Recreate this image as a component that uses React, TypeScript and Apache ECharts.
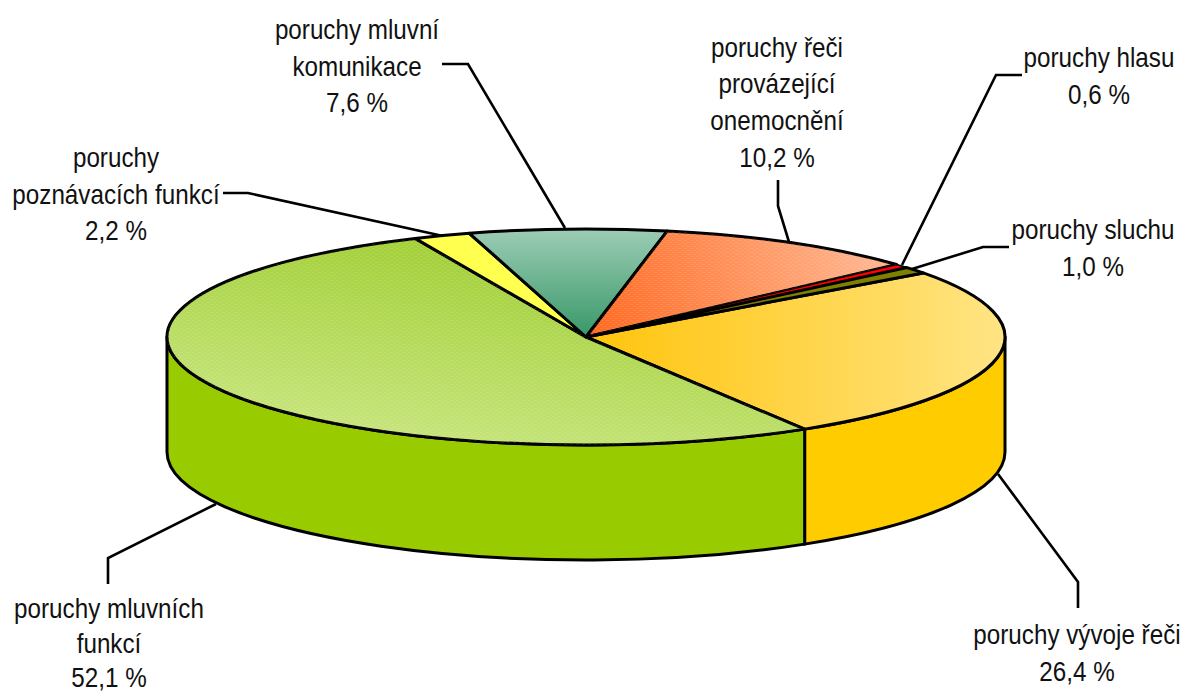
import React, { useEffect, useRef } from "react";
import * as echarts from "echarts";

// ---- data ----
const categories = [
  "poruchy vývoje řeči",
  "poruchy mluvních\nfunkcí",
  "poruchy\npoznávacích funkcí",
  "poruchy mluvní\nkomunikace",
  "poruchy řeči\nprovázející\nonemocnění",
  "poruchy hlasu",
  "poruchy sluchu",
];
const seriesValues = [26.4, 52.1, 2.2, 7.6, 10.2, 0.6, 1.0];

// ---- layout ----
const W = 1184;
const H = 695;
const CX = 586;
const CY = 337;
const RX = 419;
const RY = 108;
const DEPTH = 115;
const START_DEG = 53.6;
const FONT_SIZE = 28.5;
const LINE_HEIGHT = 36.8;
const BOTTOM_LABEL_LINE_HEIGHT = 34.5;
const TEXT_SCALE_X = 0.85;
const labelCenters = [
  [1077, 653],
  [109, 643],
  [116, 194],
  [357, 66],
  [777, 102],
  [1099, 76],
  [1093, 248],
];
const leaders = [
  [[1078, 608], [1078, 582], [998, 474]],
  [[108, 584], [108, 558], [216, 504]],
  [[223, 193], [248, 193], [443, 236]],
  [[442, 64], [468, 64], [565, 228]],
  [[778, 180], [778, 206], [789, 242]],
  [[1022, 75], [996, 75], [902, 265]],
  [[1009, 247], [983, 247], [912, 269]],
];

// ---- styles ----
const grad = (x: number, y: number, x2: number, y2: number, a: string, b: string) =>
  new echarts.graphic.LinearGradient(x, y, x2, y2, [
    { offset: 0, color: a },
    { offset: 1, color: b },
  ], true);
const topFills: any[] = [
  grad(590, 0, 1000, 0, "#FFC40C", "#FFE482"),
  grad(440, 238, 410, 445, "#A2CF36", "#C8E57E"),
  "#FFFF50",
  grad(0, 232, 0, 337, "#9ACBB3", "#379868"),
  grad(590, 335, 860, 245, "#FF6A22", "#FFB38C"),
  "#FF0000",
  "#808000",
];
const sideFills = ["#FFCC00", "#99CC00", "#FFFF00", "#339966", "#FF6600", "#FF0000", "#808000"];

const hatch = () => {
  const c = document.createElement("canvas");
  c.width = 6;
  c.height = 4;
  const g = c.getContext("2d")!;
  g.fillStyle = "rgba(255,255,255,0.1)";
  g.fillRect(0, 0, 3, 1);
  g.fillRect(3, 2, 3, 1);
  return c;
};

const pt = (deg: number, dy = 0) => {
  const t = (deg * Math.PI) / 180;
  return [CX + RX * Math.sin(t), CY - RY * Math.cos(t) + dy];
};
const arcTo = (deg: number, cw: boolean, dy = 0) => {
  const p = pt(deg, dy);
  return { cmd: (large: number) => `A${RX} ${RY} 0 ${large} ${cw ? 1 : 0} ${p[0]} ${p[1]}` };
};
const total = seriesValues.reduce((a, b) => a + b, 0);

function sectorPath(a: number, b: number) {
  const s = pt(a);
  return `M${CX} ${CY}L${s[0]} ${s[1]}${arcTo(b, true).cmd(b - a > 180 ? 1 : 0)}Z`;
}
function sidePath(a: number, b: number) {
  const s = pt(a);
  const e = pt(b, DEPTH);
  return (
    `M${s[0]} ${s[1]}` +
    arcTo(b, true).cmd(b - a > 180 ? 1 : 0) +
    `L${e[0]} ${e[1]}` +
    arcTo(a, false, DEPTH).cmd(b - a > 180 ? 1 : 0) +
    "Z"
  );
}

export default function App() {
  const ref = useRef<HTMLDivElement>(null);
  useEffect(() => {
    const chart = echarts.init(ref.current!, null, { renderer: "svg" });
    const pattern = { image: hatch(), repeat: "repeat" };
    const line = { stroke: "#000", lineWidth: 3, lineJoin: "round" };
    chart.setOption({
      animation: false,
      backgroundColor: "#fff",
      series: [
        {
          type: "custom",
          coordinateSystem: "none",
          silent: true,
          data: seriesValues.map((v) => [v]),
          renderItem: (params: any, api: any) => {
            const i = params.dataIndex;
            const v = api.value(0);
            const before = seriesValues.slice(0, i).reduce((a, b) => a + b, 0);
            const a = START_DEG + (before / total) * 360;
            const b = a + (v / total) * 360;
            const children: any[] = [];
            // visible wall: the front half of the drum (90°–270°)
            const wa = Math.max(a, 90);
            const wb = Math.min(b, 270);
            if (wb > wa) {
              children.push({
                type: "path",
                z2: 1,
                shape: { pathData: sidePath(wa, wb) },
                style: { fill: sideFills[i], ...line },
              });
            }
            const d = sectorPath(a, b);
            children.push({
              type: "path",
              z2: 2,
              shape: { pathData: d },
              style: { fill: topFills[i], ...line, lineWidth: v < 1 ? 1.6 : 3 },
            });
            if (i === 1 || i === 4) {
              children.push({
                type: "path",
                z2: 3,
                shape: { pathData: d },
                style: { fill: pattern, stroke: "none" },
              });
            }
            children.push({
              type: "polyline",
              z2: 4,
              shape: { points: leaders[i] },
              style: { fill: "none", stroke: "#000", lineWidth: 2.6, lineJoin: "miter" },
            });
            children.push({
              type: "text",
              z2: 5,
              x: labelCenters[i][0],
              y: labelCenters[i][1],
              scaleX: TEXT_SCALE_X,
              style: {
                text: `${categories[i]}\n${v.toFixed(1).replace(".", ",")} %`,
                font: `${FONT_SIZE}px "Liberation Sans", Arial, sans-serif`,
                fill: "#111",
                align: "center",
                verticalAlign: "middle",
                lineHeight: i === 1 ? BOTTOM_LABEL_LINE_HEIGHT : LINE_HEIGHT,
              },
            });
            return { type: "group", children };
          },
        },
      ],
    });
    return () => chart.dispose();
  }, []);
  return (
    <div
      ref={ref}
      style={{ position: "absolute", left: 0, top: 0, width: W, height: H }}
    />
  );
}
